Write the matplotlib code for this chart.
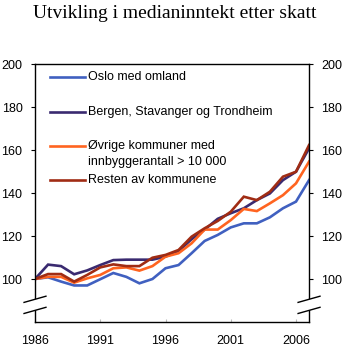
import numpy as np
import matplotlib
matplotlib.use("Agg")
import matplotlib.pyplot as plt
from matplotlib.lines import Line2D
from matplotlib.patches import Polygon

years = list(range(1986, 2008))
oslo = [100, 100.8, 98.8, 97, 97, 99.9, 102.8, 101, 98, 100, 105, 106.5,
        112, 117.7, 120.5, 124, 125.9, 125.9, 128.7, 132.9, 136, 146]
bergen = [100, 106.7, 106, 102.2, 104, 106.5, 108.8, 109, 109, 109, 110.4, 113,
          118.5, 123, 128, 130.6, 132.9, 136.7, 139.8, 146, 149.9, 160.8]
ovrige = [100, 101, 101, 98.3, 100.3, 101.9, 105, 105.4, 103.9, 106, 110.4, 112,
          116.6, 123, 123, 127.4, 132.6, 131.6, 135.2, 139, 144.5, 154.6]
resten = [100, 102.3, 102.3, 98.8, 101.9, 105.4, 106.8, 106, 106, 109.9, 111.2, 113.5,
          119.7, 123.6, 127, 131.3, 138.3, 136.7, 140.6, 147.6, 149.9, 162.3]

labels = ["Oslo med omland", "Bergen, Stavanger og Trondheim",
          "Øvrige kommuner med\ninnbyggerantall > 10 000", "Resten av kommunene"]
colors = ["#4060c0", "#3a2a70", "#ff6420", "#a02c14"]
series = [oslo, bergen, ovrige, resten]

xticks = [1986, 1991, 1996, 2001, 2006]
yticks = [100, 120, 140, 160, 180, 200]

plt.rcParams['font.family'] = ['Liberation Sans', 'DejaVu Sans']

fig = plt.figure(figsize=(3.5, 3.5), dpi=100)
ax = fig.add_axes([0.1, 0.08, 0.783, 0.737])

for vals, c in zip(series, colors):
    ax.plot(years, vals, color=c, lw=1.9, solid_joinstyle='miter')

ax.set_xlim(1986, 2007)
ax.set_ylim(80, 200)
ax.set_xticks(xticks)
ax.set_yticks(yticks)
ax.tick_params(axis='x', direction='in', length=2, color='#bbbbbb', labelsize=9, pad=9)
ax.tick_params(axis='y', direction='out', length=3, labelsize=9, pad=6,
               left=True, right=True, labelleft=True, labelright=True)
for s in ax.spines.values():
    s.set_linewidth(1.0)

# axis break marks on both sides
for x0 in (0.0, 1.0):
    w = 0.04
    lo, hi = 0.045, 0.088
    d = 0.012
    poly = Polygon([(x0 - w, lo - d), (x0 + w, lo + d), (x0 + w, hi + d), (x0 - w, hi - d)],
                   closed=True, transform=ax.transAxes, facecolor='white',
                   edgecolor='none', clip_on=False, zorder=5)
    ax.add_patch(poly)
    for yy in (lo, hi):
        ax.add_line(Line2D([x0 - w, x0 + w], [yy - d, yy + d], transform=ax.transAxes,
                           color='black', lw=1.0, clip_on=False, zorder=6))

# legend drawn by hand to keep the uneven row layout
rows = [0.950, 0.814, 0.682, 0.550]
for lab, c, yy in zip(labels, colors, rows):
    ax.add_line(Line2D([0.055, 0.182], [yy, yy], transform=ax.transAxes, color=c, lw=1.9))
    if "\n" in lab:
        ax.text(0.193, yy + 0.022, lab, transform=ax.transAxes, fontsize=9,
                va='top', ha='left', linespacing=1.45)
    else:
        ax.text(0.193, yy, lab, transform=ax.transAxes, fontsize=9, va='center', ha='left')

fig.text(0.5, 0.962, "Utvikling i medianinntekt etter skatt", ha='center', va='center',
         fontsize=14, family=['Liberation Serif', 'DejaVu Serif'])

fig.savefig("out.png", dpi=100)
